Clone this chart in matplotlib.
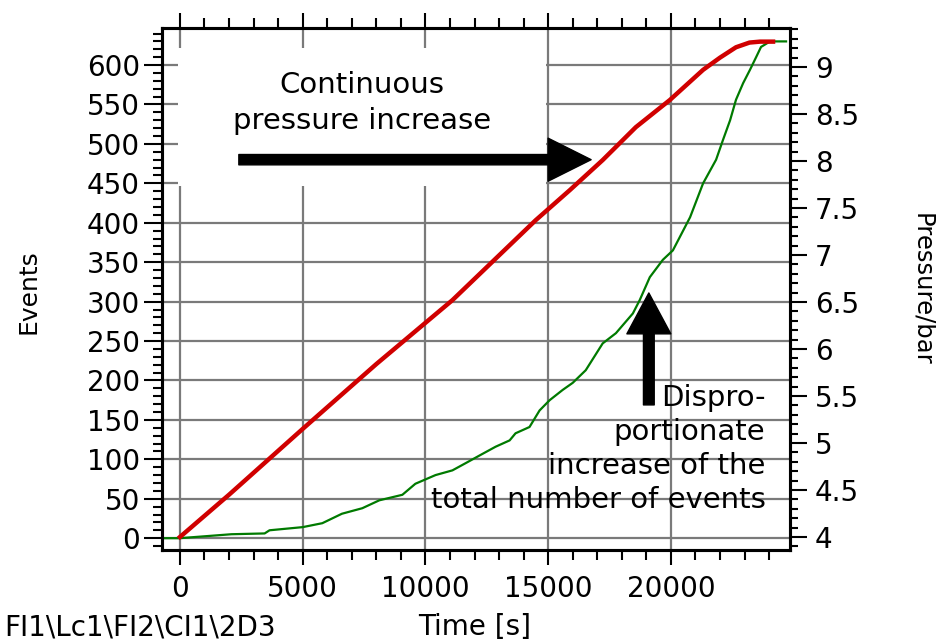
import matplotlib
matplotlib.use('Agg')
import matplotlib.pyplot as plt
from matplotlib.patches import Rectangle
from matplotlib.ticker import MultipleLocator

# total event count over time (left axis)
events_time = [-700, 0, 2100, 3450, 3650, 5000, 5800, 6600, 7430, 8120, 9060, 9590,
               10410, 11100, 11630, 12330, 12860, 13430, 13670, 14240, 14650, 15060,
               15590, 16000, 16530, 17220, 17760, 18450, 18730, 19140, 19670, 20080,
               20780, 21310, 21840, 22120, 22410, 22650, 22940, 23220, 23470, 23670,
               24040, 24690]
events_count = [0, 0, 5, 6, 10, 14, 19, 31, 38, 48, 55, 69,
                80, 86, 95, 107, 116, 124, 133, 141, 162, 175,
                188, 197, 213, 247, 260, 285, 302, 331, 353, 365,
                407, 450, 480, 505, 530, 556, 577, 594, 610, 623,
                630, 630]

# pressure ramp (right axis)
pressure_time = [0, 2000, 5000, 8000, 11100, 14490, 15880, 17220, 18570, 19960,
                 21310, 22000, 22650, 23200, 23630, 24160]
pressure_bar = [4.0, 4.45, 5.15, 5.84, 6.52, 7.37, 7.69, 8.01, 8.36, 8.65,
                8.97, 9.10, 9.21, 9.26, 9.27, 9.27]

time_ticks = [0, 5000, 10000, 15000, 20000]
event_ticks = list(range(0, 601, 50))
pressure_ticks = [4, 4.5, 5, 5.5, 6, 6.5, 7, 7.5, 8, 8.5, 9]
pressure_labels = ['4', '4.5', '5', '5.5', '6', '6.5', '7', '7.5', '8', '8.5', '9']

upper_note = 'Continuous\npressure increase'
lower_note = 'Dispro-\nportionate\nincrease of the\ntotal number of events'


def style_axes(ax, ax2):
    for spine in ax.spines.values():
        spine.set_linewidth(2.2)
    ax.set_xlim(-730, 24850)
    ax.set_ylim(-15, 647)
    ax2.set_ylim(3.862, 9.415)

    ax.set_xticks(time_ticks)
    ax.xaxis.set_minor_locator(MultipleLocator(1000))
    ax.set_yticks(event_ticks)
    ax.yaxis.set_minor_locator(MultipleLocator(10))
    ax.tick_params(axis='both', which='both', direction='out', width=1.5,
                   labelsize=20, top=True)
    ax.tick_params(axis='y', which='major', length=13, pad=3)
    ax.tick_params(axis='y', which='minor', length=6.5)
    ax.tick_params(axis='x', which='major', length=11, pad=7)
    ax.tick_params(axis='x', which='minor', length=7)

    ax2.set_yticks(pressure_ticks)
    ax2.set_yticklabels(pressure_labels)
    ax2.yaxis.set_minor_locator(MultipleLocator(0.1))
    ax2.tick_params(axis='y', which='both', direction='out', width=1.5, labelsize=20)
    ax2.tick_params(axis='y', which='major', length=12, pad=6)
    ax2.tick_params(axis='y', which='minor', length=6)
    for spine in ax2.spines.values():
        spine.set_linewidth(2.2)

    ax.grid(True, which='major', color='#7a7a7a', linewidth=1.6)


def main():
    fig = plt.figure(figsize=(9.36, 6.44), dpi=100)
    ax = fig.add_axes([162 / 936, 94 / 644, 628 / 936, 522 / 644])
    ax2 = ax.twinx()
    style_axes(ax, ax2)

    # white panel behind the upper note hides the grid there
    ax.add_patch(Rectangle((-90, 447), 14990, 175, facecolor='white',
                           edgecolor='none', zorder=1.7))

    ax.plot(events_time, events_count, color='#007a00', linewidth=1.6, zorder=2)
    ax2.plot(pressure_time, pressure_bar, color='#d00000', linewidth=3.2, zorder=2)

    ax.text(7400, 552, upper_note, ha='center', va='center', fontsize=21,
            linespacing=1.4, zorder=3)
    ax.text(23850, 113, lower_note, ha='right', va='center', fontsize=21,
            linespacing=1.28, zorder=3)

    ax.annotate('', xy=(16750, 480), xytext=(2400, 480),
                arrowprops=dict(arrowstyle='simple,head_length=1.0,head_width=1.0,tail_width=0.24',
                                mutation_scale=31, color='black', shrinkA=0, shrinkB=0),
                zorder=4)
    ax.annotate('', xy=(19100, 311), xytext=(19100, 169),
                arrowprops=dict(arrowstyle='simple,head_length=0.95,head_width=1.02,tail_width=0.25',
                                mutation_scale=31, color='black', shrinkA=0, shrinkB=0),
                zorder=4)

    fig.text(0.030, 0.547, 'Events', rotation=90, ha='center', va='center', fontsize=18)
    fig.text(0.985, 0.55, 'Pressure/bar', rotation=-90, ha='center', va='center', fontsize=17.5)
    fig.text(0.507, 0.026, 'Time [s]', ha='center', va='center', fontsize=20)
    fig.text(0.005, 0.026, 'FI1\\Lc1\\FI2\\CI1\\2D3', ha='left', va='center', fontsize=20)

    fig.savefig('out.png', dpi=100)
    plt.close(fig)


if __name__ == '__main__':
    main()
